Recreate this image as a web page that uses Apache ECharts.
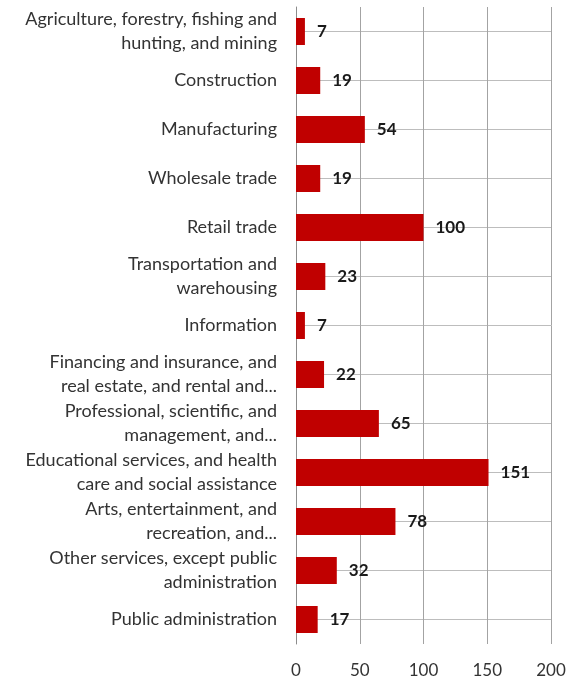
<!DOCTYPE html>
<html>
<head>
<meta charset="utf-8">
<script src="https://cdn.jsdelivr.net/npm/echarts@6/dist/echarts.min.js"></script>
<style>
  html, body { margin: 0; padding: 0; background: #fff; }
  #chart { width: 588px; height: 680px; }
</style>
</head>
<body>
<div id="chart"></div>
<script>
// Industry categories (top to bottom), with the line breaks used on the axis
const categories = [
  'Agriculture, forestry, fishing and\nhunting, and mining',
  'Construction',
  'Manufacturing',
  'Wholesale trade',
  'Retail trade',
  'Transportation and\nwarehousing',
  'Information',
  'Financing and insurance, and\nreal estate, and rental and...',
  'Professional, scientific, and\nmanagement, and...',
  'Educational services, and health\ncare and social assistance',
  'Arts, entertainment, and\nrecreation, and...',
  'Other services, except public\nadministration',
  'Public administration'
];

// Count per industry
const values = [7, 19, 54, 19, 100, 23, 7, 22, 65, 151, 78, 32, 17];

// Value axis ticks
const xTicks = [0, 50, 100, 150, 200];

const FONT = 'Lato, "Open Sans", sans-serif';

const chart = echarts.init(document.getElementById('chart'), null, { renderer: 'canvas' });

chart.setOption({
  animation: false,
  backgroundColor: '#ffffff',
  grid: { left: 296, right: 37, top: 7, bottom: 36, containLabel: false },
  xAxis: {
    type: 'value',
    min: xTicks[0],
    max: xTicks[xTicks.length - 1],
    interval: xTicks[1] - xTicks[0],
    axisLine: { show: false },
    axisTick: { show: false },
    axisLabel: { color: '#333333', fontSize: 17, fontFamily: FONT, margin: 18 },
    splitLine: { show: true, lineStyle: { color: '#a3a3a3', width: 1 } }
  },
  yAxis: {
    type: 'category',
    inverse: true,
    data: categories,
    axisLine: { show: true, lineStyle: { color: '#8c8c8c', width: 1 } },
    axisTick: { show: false },
    axisLabel: {
      color: '#333333', fontSize: 18, fontFamily: FONT, margin: 19,
      align: 'right', lineHeight: 24
    },
    splitLine: { show: true, alignWithLabel: true, lineStyle: { color: '#bdbdbd', width: 1 } }
  },
  series: [{
    type: 'bar',
    data: values,
    barWidth: 27,
    itemStyle: { color: '#c00000' },
    label: {
      show: true,
      position: 'right',
      distance: 12,
      color: '#1a1a1a',
      fontWeight: 'bold',
      fontSize: 17,
      fontFamily: FONT
    }
  }]
});
</script>
</body>
</html>
